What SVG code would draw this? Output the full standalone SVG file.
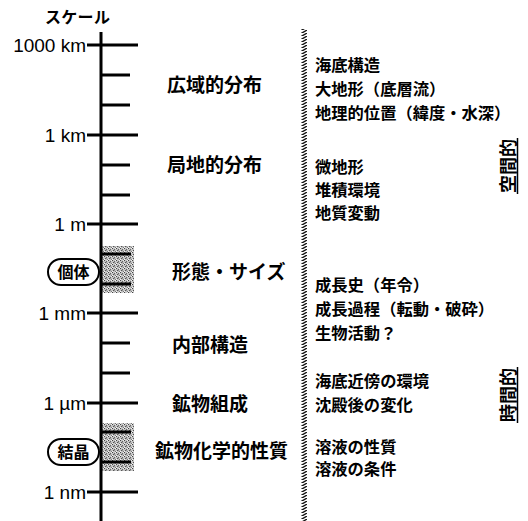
<svg xmlns="http://www.w3.org/2000/svg" width="528" height="521" viewBox="0 0 528 521">
<defs>
<pattern id="stip" width="4" height="4" patternUnits="userSpaceOnUse">
<rect width="4" height="4" fill="#c4c4c4"/>
<rect x="0" y="0" width="1" height="1" fill="#444"/>
<rect x="2" y="1" width="1" height="1" fill="#666"/>
<rect x="1" y="2" width="1" height="1" fill="#555"/>
<rect x="3" y="3" width="1" height="1" fill="#777"/>
<rect x="3" y="0" width="1" height="1" fill="#eee"/>
<rect x="0" y="3" width="1" height="1" fill="#f4f4f4"/>
<rect x="2" y="2" width="1" height="1" fill="#999"/>
</pattern>
<pattern id="hatch" width="7" height="3" patternUnits="userSpaceOnUse">
<rect width="7" height="3" fill="#fff"/>
<line x1="0" y1="3.5" x2="7" y2="-0.5" stroke="#111" stroke-width="1.4"/>
</pattern>
<style>
.ax{stroke:#000;stroke-width:3;fill:none}
.sc{font-family:"Liberation Sans",Arial,sans-serif;font-size:19px;fill:#000;text-anchor:end}
.jp{font-family:"Noto Sans CJK JP","Noto Sans CJK SC",sans-serif;font-weight:bold;fill:#000}
.mid{font-size:19px}
.rt{font-size:16.3px}
.pill{fill:#fff;stroke:#000;stroke-width:2}
</style>
</defs>

<g id="title"><text class="jp" x="45" y="23" font-size="16" letter-spacing="0.3">スケール</text></g>

<g id="hatched-divider"><rect x="301" y="29" width="6" height="492" fill="url(#hatch)"/></g>

<g id="shading">
<rect x="102" y="246" width="32" height="47" fill="url(#stip)"/>
<rect x="102" y="423" width="32" height="48" fill="url(#stip)"/>
</g>

<g id="connectors">
<line class="ax" x1="101" y1="32" x2="101" y2="521"/>
<g id="major-ticks">
<line class="ax" x1="87" y1="45" x2="138" y2="45"/>
<line class="ax" x1="87" y1="135" x2="138" y2="135"/>
<line class="ax" x1="87" y1="224" x2="138" y2="224"/>
<line class="ax" x1="87" y1="313" x2="138" y2="313"/>
<line class="ax" x1="87" y1="403" x2="138" y2="403"/>
<line class="ax" x1="87" y1="492" x2="138" y2="492"/>
</g>
<g id="minor-ticks">
<line class="ax" x1="101" y1="75" x2="130" y2="75"/>
<line class="ax" x1="101" y1="105" x2="130" y2="105"/>
<line class="ax" x1="101" y1="165" x2="130" y2="165"/>
<line class="ax" x1="101" y1="195" x2="130" y2="195"/>
<line class="ax" x1="101" y1="254" x2="131" y2="254"/>
<line class="ax" x1="101" y1="284" x2="131" y2="284"/>
<line class="ax" x1="101" y1="343" x2="130" y2="343"/>
<line class="ax" x1="101" y1="373" x2="130" y2="373"/>
<line class="ax" x1="101" y1="432" x2="131" y2="432"/>
<line class="ax" x1="101" y1="462" x2="131" y2="462"/>
</g>
</g>

<g id="scale-labels">
<text class="sc" x="86" y="51.8">1000 km</text>
<text class="sc" x="86" y="141.8">1 km</text>
<text class="sc" x="86" y="230.8">1 m</text>
<text class="sc" x="86" y="319.8">1 mm</text>
<text class="sc" x="86" y="409.8">1 µm</text>
<text class="sc" x="86" y="498.8">1 nm</text>
</g>

<g id="node-kotai">
<rect class="pill" x="48" y="259" width="51" height="26" rx="13"/>
<text class="jp" x="73.5" y="278" font-size="16" text-anchor="middle">個体</text>
</g>
<g id="node-kessho">
<rect class="pill" x="48" y="439" width="51" height="26" rx="13"/>
<text class="jp" x="73.5" y="458" font-size="16" text-anchor="middle">結晶</text>
</g>

<g id="mid-labels">
<text class="jp mid" x="167" y="92">広域的分布</text>
<text class="jp mid" x="167" y="172">局地的分布</text>
<text class="jp mid" x="172" y="279">形態・サイズ</text>
<text class="jp mid" x="172" y="352">内部構造</text>
<text class="jp mid" x="172" y="411">鉱物組成</text>
<text class="jp mid" x="155" y="458">鉱物化学的性質</text>
</g>

<g id="right-labels">
<text class="jp rt" x="315" y="71">海底構造</text>
<text class="jp rt" x="315" y="95">大地形（底層流）</text>
<text class="jp rt" x="315" y="119">地理的位置（緯度・水深）</text>
<text class="jp rt" x="315" y="173">微地形</text>
<text class="jp rt" x="315" y="196">堆積環境</text>
<text class="jp rt" x="315" y="219">地質変動</text>
<text class="jp rt" x="315" y="291">成長史（年令）</text>
<text class="jp rt" x="315" y="315">成長過程（転動・破砕）</text>
<text class="jp rt" x="315" y="339">生物活動？</text>
<text class="jp rt" x="315" y="387">海底近傍の環境</text>
<text class="jp rt" x="315" y="411">沈殿後の変化</text>
<text class="jp rt" x="315" y="453">溶液の性質</text>
<text class="jp rt" x="315" y="475">溶液の条件</text>
</g>

<g id="node-kukanteki">
<text class="jp" font-size="18" text-anchor="middle" dominant-baseline="central" transform="translate(507,166) rotate(-90)">空間的</text>
<line x1="517.5" y1="138" x2="517.5" y2="194" stroke="#000" stroke-width="1.5"/>
</g>
<g id="node-jikanteki">
<text class="jp" font-size="18" text-anchor="middle" dominant-baseline="central" transform="translate(507,395) rotate(-90)">時間的</text>
<line x1="517.5" y1="367" x2="517.5" y2="423" stroke="#000" stroke-width="1.5"/>
</g>
</svg>
